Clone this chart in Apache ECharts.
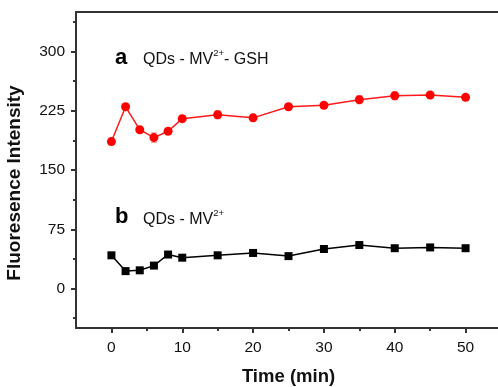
<!DOCTYPE html>
<html><head><meta charset="utf-8">
<script src="https://cdn.jsdelivr.net/npm/echarts@6/dist/echarts.min.js"></script>
<style>html,body{margin:0;padding:0;background:#fff}#c{width:498px;height:387px}</style>
</head><body><div id="c"></div>
<script>
const times = [0, 2, 4, 6, 8, 10, 15, 20, 25, 30, 35, 40, 45, 50];
const seriesA = [186, 230, 201, 191, 199, 215, 220, 216, 230, 232, 239, 244, 245, 242];
const errA = [4, 3, 3, 6, 3, 3, 5, 4, 3, 3, 5, 5, 3, 3];
const seriesB = [42, 22, 23, 29, 43, 39, 42, 45, 41, 50, 55, 51, 52, 51];
const yMajor = [0, 75, 150, 225, 300];
const yMinor = [-37.5, 37.5, 112.5, 187.5, 262.5, 337.5];
const xMajor = [0, 10, 20, 30, 40, 50];
const xMinor = [5, 15, 25, 35, 45, 55];

const FONT = '"Liberation Sans", Arial, sans-serif';
const AX = '#333';

const chart = echarts.init(document.getElementById('c'), null, {renderer: 'canvas'});
const dataA = times.map((t, i) => [t, seriesA[i]]);
const dataB = times.map((t, i) => [t, seriesB[i]]);
const dataErr = times.map((t, i) => [t, seriesA[i], errA[i]]);

const baseX = {type: 'value', min: -5, max: 55, splitLine: {show: false}};
const baseY = {type: 'value', min: -50, max: 350, splitLine: {show: false}};

chart.setOption({
  animation: false,
  backgroundColor: '#fff',
  grid: {left: 76, right: -3, top: 12, bottom: 59, containLabel: false, outerBoundsMode: 'none'},
  xAxis: [
    Object.assign({}, baseX, {
      position: 'bottom',
      axisLine: {show: true, onZero: false, lineStyle: {color: AX, width: 2}},
      axisTick: {show: true, length: 5, inside: false, lineStyle: {color: AX, width: 2}, customValues: xMajor},
      axisLabel: {show: true, margin: 12, color: '#111', fontSize: 15.5, fontFamily: FONT, customValues: xMajor},
      name: 'Time (min)', nameLocation: 'middle', nameGap: 39,
      nameTextStyle: {fontSize: 18.5, fontWeight: 'bold', color: '#111', fontFamily: FONT}
    }),
    Object.assign({}, baseX, {
      position: 'bottom',
      axisLine: {show: false, onZero: false},
      axisTick: {show: true, length: 3, lineStyle: {color: AX, width: 2}, customValues: xMinor},
      axisLabel: {show: false}
    }),
    Object.assign({}, baseX, {
      position: 'top',
      axisLine: {show: true, onZero: false, lineStyle: {color: AX, width: 2}},
      axisTick: {show: false},
      axisLabel: {show: false}
    })
  ],
  yAxis: [
    Object.assign({}, baseY, {
      position: 'left',
      axisLine: {show: true, onZero: false, lineStyle: {color: AX, width: 2}},
      axisTick: {show: true, length: 5, lineStyle: {color: AX, width: 2}, customValues: yMajor},
      axisLabel: {show: true, margin: 11, color: '#111', fontSize: 15.5, fontFamily: FONT, customValues: yMajor}
    }),
    Object.assign({}, baseY, {
      position: 'left',
      axisLine: {show: false, onZero: false},
      axisTick: {show: true, length: 3, lineStyle: {color: AX, width: 2}, customValues: yMinor},
      axisLabel: {show: false}
    })
  ],
  graphic: [
    {type: 'text', x: 15, y: 183, rotation: Math.PI / 2,
     style: {text: 'Fluoresence Intensity', fontSize: 19, fontWeight: 'bold', fontFamily: FONT, fill: '#111',
             align: 'center', verticalAlign: 'middle'}},
    {type: 'text', x: 115, y: 58,
     style: {text: 'a', fontSize: 22, fontWeight: 'bold', fontFamily: FONT, fill: '#000', align: 'left', verticalAlign: 'middle'}},
    {type: 'text', x: 143, y: 58,
     style: {text: '{t|QDs - MV}{s|2+}{t|- GSH}', fontFamily: FONT, fill: '#111', align: 'left', verticalAlign: 'middle',
             rich: {t: {fontSize: 16, fontFamily: FONT, lineHeight: 20, verticalAlign: 'bottom'},
                    s: {fontSize: 9.5, fontFamily: FONT, lineHeight: 20, verticalAlign: 'top'}}}},
    {type: 'text', x: 115, y: 217,
     style: {text: 'b', fontSize: 22, fontWeight: 'bold', fontFamily: FONT, fill: '#000', align: 'left', verticalAlign: 'middle'}},
    {type: 'text', x: 143, y: 218,
     style: {text: '{t|QDs - MV}{s|2+}', fontFamily: FONT, fill: '#111', align: 'left', verticalAlign: 'middle',
             rich: {t: {fontSize: 16, fontFamily: FONT, lineHeight: 20, verticalAlign: 'bottom'},
                    s: {fontSize: 9.5, fontFamily: FONT, lineHeight: 20, verticalAlign: 'top'}}}}
  ],
  series: [
    {
      type: 'custom', xAxisIndex: 0, yAxisIndex: 0, z: 1,
      data: dataErr,
      renderItem: function (params, api) {
        const x = api.value(0), y = api.value(1), e = api.value(2);
        const hi = api.coord([x, y + e]);
        const lo = api.coord([x, y - e]);
        const w = 3;
        const st = {stroke: '#f59a9a', lineWidth: 1.2};
        return {type: 'group', children: [
          {type: 'line', shape: {x1: hi[0], y1: hi[1], x2: lo[0], y2: lo[1]}, style: st},
          {type: 'line', shape: {x1: hi[0] - w, y1: hi[1], x2: hi[0] + w, y2: hi[1]}, style: st},
          {type: 'line', shape: {x1: lo[0] - w, y1: lo[1], x2: lo[0] + w, y2: lo[1]}, style: st}
        ]};
      }
    },
    {
      type: 'line', xAxisIndex: 0, yAxisIndex: 0, z: 3, data: dataA,
      symbol: 'circle', symbolSize: 9,
      lineStyle: {color: '#ff1a1a', width: 1.5},
      itemStyle: {color: '#ff0000'}
    },
    {
      type: 'line', xAxisIndex: 0, yAxisIndex: 0, z: 3, data: dataB,
      symbol: 'rect', symbolSize: 8,
      lineStyle: {color: '#000', width: 1.5},
      itemStyle: {color: '#000'}
    }
  ]
});
</script>
</body></html>
